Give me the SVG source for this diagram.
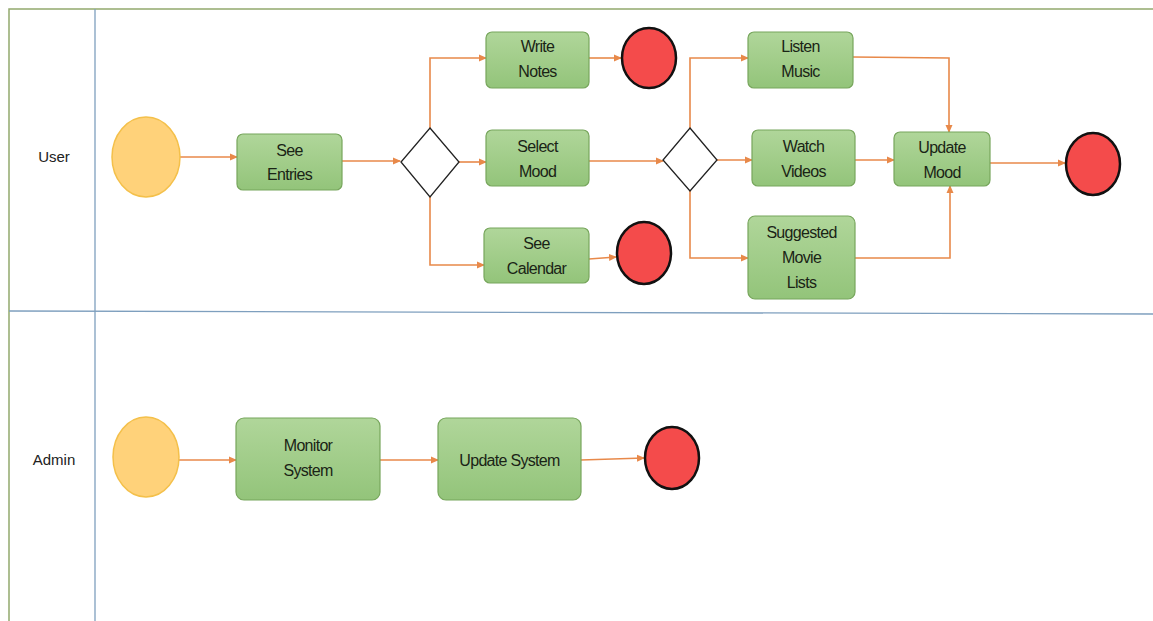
<svg xmlns="http://www.w3.org/2000/svg" width="1153" height="621" viewBox="0 0 1153 621">
<defs>
<marker id="ah" markerWidth="8" markerHeight="8" refX="7" refY="4" orient="auto" markerUnits="userSpaceOnUse">
<path d="M0,0.5 L8,4 L0,7.5 Z" fill="#E8894A"/>
</marker>
<linearGradient id="gg" x1="0" y1="0" x2="0" y2="1">
<stop offset="0" stop-color="#B0D69A"/>
<stop offset="1" stop-color="#93C47A"/>
</linearGradient>
</defs>
<style>
.box{fill:url(#gg);stroke:#77A65C;stroke-width:1.2}
.t{font-family:"Liberation Sans",Arial,sans-serif;font-size:16px;fill:#1A2416;text-anchor:middle;letter-spacing:-0.7px}
.lbl{font-family:"Liberation Sans",Arial,sans-serif;font-size:15px;fill:#222;text-anchor:middle}
.start{fill:#FFD27A;stroke:#F4C04A;stroke-width:1.5}
.end{fill:#F44B4B;stroke:#111;stroke-width:2.5}
.dia{fill:#fff;stroke:#222;stroke-width:1.3}
.c{fill:none;stroke:#E8894A;stroke-width:1.6;marker-end:url(#ah)}
.lane{stroke:#7E9FBE;stroke-width:1.3;fill:none}
.outer{stroke:#93A96E;stroke-width:1.5;fill:none}
</style>
<rect width="1153" height="621" fill="#fff"/>
<g id="lanes">
<path class="outer" d="M1153,9 L9,9 L9,621"/>
<path class="lane" d="M95,9 L95,621"/>
<path class="lane" d="M9,311 L1153,314"/>
<text class="lbl" x="54" y="162">User</text>
<text class="lbl" x="54" y="465">Admin</text>
</g>
<g id="connectors">
<path class="c" d="M180,157 L237,157"/>
<path class="c" d="M342,161 L400,161"/>
<path class="c" d="M430,128 L430,58 L486,58"/>
<path class="c" d="M459,162 L486,162"/>
<path class="c" d="M430,197 L430,265 L484,265"/>
<path class="c" d="M589,58 L621,58"/>
<path class="c" d="M589,259 L616,257"/>
<path class="c" d="M589,161 L663,161"/>
<path class="c" d="M690,128 L690,58 L748,58"/>
<path class="c" d="M717,160 L752,160"/>
<path class="c" d="M690,191 L690,258 L748,258"/>
<path class="c" d="M853,57 L949,58 L949,132"/>
<path class="c" d="M855,160 L894,160"/>
<path class="c" d="M855,258 L950,258 L950,186"/>
<path class="c" d="M990,163 L1065,163"/>
<path class="c" d="M179,460 L236,460"/>
<path class="c" d="M380,460 L438,460"/>
<path class="c" d="M581,460 L644,458"/>
</g>
<g id="user-start"><ellipse class="start" cx="146" cy="157" rx="34" ry="40"/></g>
<g id="see-entries"><rect class="box" x="237" y="134" width="105" height="56" rx="6"/><text class="t" x="289.5" y="156">See</text><text class="t" x="289.5" y="180">Entries</text></g>
<g id="decision1"><path class="dia" d="M430,128 L459,162 L430,197 L401,162 Z"/></g>
<g id="write-notes"><rect class="box" x="486" y="32" width="103" height="56" rx="6"/><text class="t" x="537.5" y="52">Write</text><text class="t" x="537.5" y="77">Notes</text></g>
<g id="end-notes"><ellipse class="end" cx="649" cy="58" rx="27" ry="30"/></g>
<g id="select-mood"><rect class="box" x="486" y="130" width="103" height="56" rx="6"/><text class="t" x="537.5" y="152">Select</text><text class="t" x="537.5" y="177">Mood</text></g>
<g id="see-calendar"><rect class="box" x="484" y="228" width="105" height="55" rx="6"/><text class="t" x="536.5" y="249">See</text><text class="t" x="536.5" y="274">Calendar</text></g>
<g id="end-calendar"><ellipse class="end" cx="644" cy="253" rx="27" ry="31"/></g>
<g id="decision2"><path class="dia" d="M690,128 L717,160 L690,191 L663,160 Z"/></g>
<g id="listen-music"><rect class="box" x="748" y="32" width="105" height="56" rx="6"/><text class="t" x="800.5" y="52">Listen</text><text class="t" x="800.5" y="77">Music</text></g>
<g id="watch-videos"><rect class="box" x="752" y="130" width="103" height="56" rx="6"/><text class="t" x="803.5" y="152">Watch</text><text class="t" x="803.5" y="177">Videos</text></g>
<g id="suggested"><rect class="box" x="748" y="216" width="107" height="83" rx="7"/><text class="t" x="801.5" y="238">Suggested</text><text class="t" x="801.5" y="263">Movie</text><text class="t" x="801.5" y="288">Lists</text></g>
<g id="update-mood"><rect class="box" x="894" y="132" width="96" height="54" rx="6"/><text class="t" x="942" y="153">Update</text><text class="t" x="942" y="178">Mood</text></g>
<g id="end-user"><ellipse class="end" cx="1093" cy="164" rx="27" ry="31"/></g>
<g id="admin-start"><ellipse class="start" cx="146" cy="457" rx="33" ry="40"/></g>
<g id="monitor-system"><rect class="box" x="236" y="418" width="144" height="82" rx="8"/><text class="t" x="308" y="451">Monitor</text><text class="t" x="308" y="476">System</text></g>
<g id="update-system"><rect class="box" x="438" y="418" width="143" height="82" rx="8"/><text class="t" x="509.5" y="466">Update System</text></g>
<g id="end-admin"><ellipse class="end" cx="672" cy="458" rx="27" ry="31"/></g>
</svg>
